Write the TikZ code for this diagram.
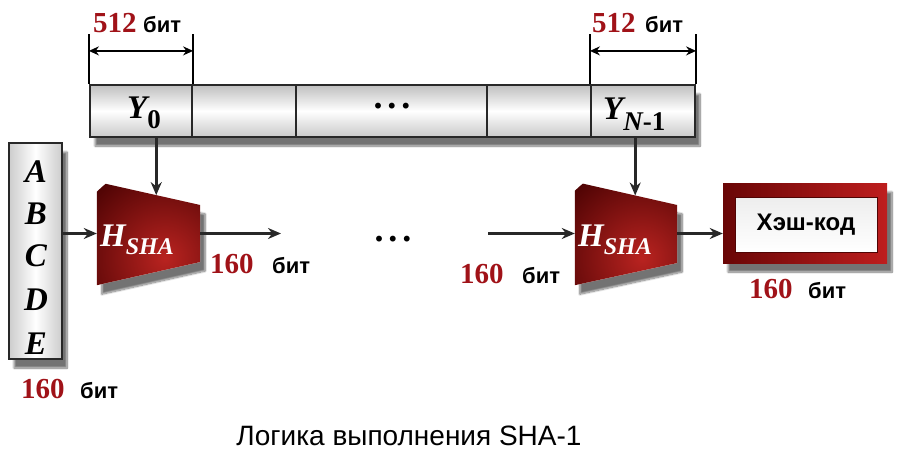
\documentclass[tikz,border=0pt]{standalone}
\usepackage{fontspec}
\setmainfont{Liberation Serif}
\newfontfamily\sansf{Liberation Sans}
\usetikzlibrary{arrows.meta,shadows.blur,calc}
\definecolor{numred}{RGB}{160,18,24}
\definecolor{darkred}{RGB}{80,4,4}
\definecolor{midred}{RGB}{185,35,32}
\definecolor{framel}{RGB}{105,6,6}
\definecolor{framer}{RGB}{190,30,30}
\definecolor{linegray}{RGB}{40,40,40}
\newcommand{\numf}{\fontsize{29}{29}\selectfont\bfseries}
\newcommand{\bitf}{\sansf\bfseries\fontsize{22}{22}\selectfont}
\newcommand{\letf}{\fontsize{33}{33}\selectfont\bfseries\itshape}
\begin{document}
\begin{tikzpicture}[x=1pt,y=-1pt,
  conn/.style={draw=linegray, line width=3pt, -{Stealth[length=13pt,width=11pt]}},
  dimline/.style={draw=black, line width=2pt, {Stealth[length=10pt,width=9pt]}-{Stealth[length=10pt,width=9pt]}},
  tickline/.style={draw=black, line width=2pt},
  cell/.style={draw=linegray, line width=2.2pt, inner sep=0pt, minimum height=52pt,
    top color=gray!50, bottom color=gray!42, middle color=white},
  num/.style={anchor=base west, inner sep=0pt, font=\numf, text=numred},
  bit/.style={anchor=base west, inner sep=0pt, font=\bitf, text=black},
  letter/.style={anchor=base, inner sep=0pt, font=\letf, text=black},
  hbox/.style={inner sep=0pt, minimum width=103pt, minimum height=103pt},
  softshadow/.style={blur shadow={shadow xshift=5pt, shadow yshift=-9pt, shadow blur steps=12, shadow opacity=55}},
  dots/.style={inner sep=0pt, font=\fontsize{36}{36}\selectfont\bfseries}
]
\useasboundingbox (0,0) rectangle (900,455);

% ---- message block bar ----
\node[fill=white, softshadow, inner sep=0pt, minimum width=605pt, minimum height=52pt] (barbg) at (392.5,111) {};
\node[cell, minimum width=102pt] (c0) at (141,111) {};
\node[cell, minimum width=104pt] (c1) at (244,111) {};
\node[cell, minimum width=191pt] (c2) at (391.5,111) {};
\node[cell, minimum width=104pt] (c3) at (539,111) {};
\node[cell, minimum width=104pt] (c4) at (643,111) {};

\node[letter, anchor=base west] (y0) at (127,118) {Y\raisebox{-10pt}{\fontsize{27}{27}\selectfont\upshape 0}};
\node[letter, anchor=base west] (yn) at (603,119) {Y\raisebox{-11pt}{\fontsize{27}{27}\selectfont N\upshape -1}};
\node[dots] (dots1) at (392,106) {.\hspace{5pt}.\hspace{5pt}.};

% ---- dimension marks ----
\draw[tickline] (c0.north west) -- ++(0,-50);
\draw[tickline] (c0.north east) -- ++(0,-50);
\coordinate (d0a) at ($(c0.north west)+(0,-33)$);
\coordinate (d0b) at ($(c0.north east)+(0,-33)$);
\draw[dimline] (d0a) -- (d0b);
\draw[tickline] (c4.north west) -- ++(0,-50);
\draw[tickline] (c4.north east) -- ++(0,-50);
\coordinate (d4a) at ($(c4.north west)+(0,-33)$);
\coordinate (d4b) at ($(c4.north east)+(0,-33)$);
\draw[dimline] (d4a) -- (d4b);

\node[num] (n512a) at (93,32) {512};
\node[bit] (b512a) at (143,32) {бит};
\node[num] (n512b) at (592,32) {512};
\node[bit] (b512b) at (645,32) {бит};

% ---- ABCDE register ----
\node[draw=linegray, line width=2.6pt, left color=gray!40, right color=gray!40, middle color=white,
      softshadow, inner sep=0pt, minimum width=53pt, minimum height=216pt] (abc) at (35.5,251) {};
\node[letter] (la) at (36,182) {A};
\node[letter] (lb) at (36,224) {B};
\node[letter] (lc) at (36,266) {C};
\node[letter] (ld) at (36,310) {D};
\node[letter] (le) at (36,354) {E};
\node[num] (n160a) at (21,398) {160};
\node[bit] (b160a) at (80,398) {бит};

% ---- compression function 1 ----
\node[hbox] (h1) at (148.5,233.5) {};
\coordinate (h1tr) at ($(h1.east)+(0,-28.5)$);
\coordinate (h1br) at ($(h1.east)+(0,28.5)$);
\fill[white, softshadow] (h1.north west) -- (h1tr) -- (h1br) -- (h1.south west) -- cycle;
\begin{scope}
  \clip (h1.north west) -- (h1tr) -- (h1br) -- (h1.south west) -- cycle;
  \shade[inner color=midred, outer color=darkred] (165,258) circle (95);
\end{scope}
\node[anchor=base west, inner sep=0pt, text=white, font=\letf] (t1) at (100,246)
  {H\raisebox{-8pt}{\fontsize{24}{24}\selectfont SHA}};
\coordinate (h1top) at ($(h1.north west)!0.575!(h1tr)$);

% ---- compression function 2 ----
\node[hbox, minimum width=102pt] (h2) at (626,233.5) {};
\coordinate (h2tr) at ($(h2.east)+(0,-28.5)$);
\coordinate (h2br) at ($(h2.east)+(0,29.5)$);
\fill[white, softshadow] (h2.north west) -- (h2tr) -- (h2br) -- (h2.south west) -- cycle;
\begin{scope}
  \clip (h2.north west) -- (h2tr) -- (h2br) -- (h2.south west) -- cycle;
  \shade[inner color=midred, outer color=darkred] (642,258) circle (95);
\end{scope}
\node[anchor=base west, inner sep=0pt, text=white, font=\letf] (t2) at (578,246)
  {H\raisebox{-8pt}{\fontsize{24}{24}\selectfont SHA}};
\coordinate (h2top) at ($(h2.north west)!0.59!(h2tr)$);

% ---- hash code box ----
\node[left color=framel, right color=framer, softshadow, inner sep=0pt,
      minimum width=164pt, minimum height=80pt] (hash) at (805,223) {};
\node[draw=darkred, line width=0.8pt, top color=gray!14, bottom color=white, inner sep=0pt,
      minimum width=142pt, minimum height=55pt, font=\sansf\bfseries\fontsize{24}{24}\selectfont]
      (hashin) at (806,224.5) {Хэш-код};

% ---- connectors ----
\draw[conn] (c0.south -| h1top) -- (h1top);
\draw[conn] (c4.south -| h2top) -- (h2top);
\draw[conn] (abc.east |- h1.west) -- (h1.west);
\coordinate (o1) at (281,233.5);
\draw[conn] (h1.east) -- (o1);
\coordinate (i2) at (488,233.5);
\draw[conn] (i2) -- (h2.west);
\draw[conn] (h2.east) -- (h2.east -| hash.west);

\node[dots] (dots2) at (393,239) {.\hspace{5pt}.\hspace{5pt}.};

% ---- bit labels ----
\node[num] (n160b) at (210,273) {160};
\node[bit] (b160b) at (272,273) {бит};
\node[num] (n160c) at (460,283) {160};
\node[bit] (b160c) at (522,283) {бит};
\node[num] (n160d) at (749,298) {160};
\node[bit] (b160d) at (808,298) {бит};

% ---- caption ----
\node[anchor=base, inner sep=0pt, font=\sansf\fontsize{28}{28}\selectfont] (cap) at (409,445)
  {Логика выполнения SHA-1};
\end{tikzpicture}
\end{document}
